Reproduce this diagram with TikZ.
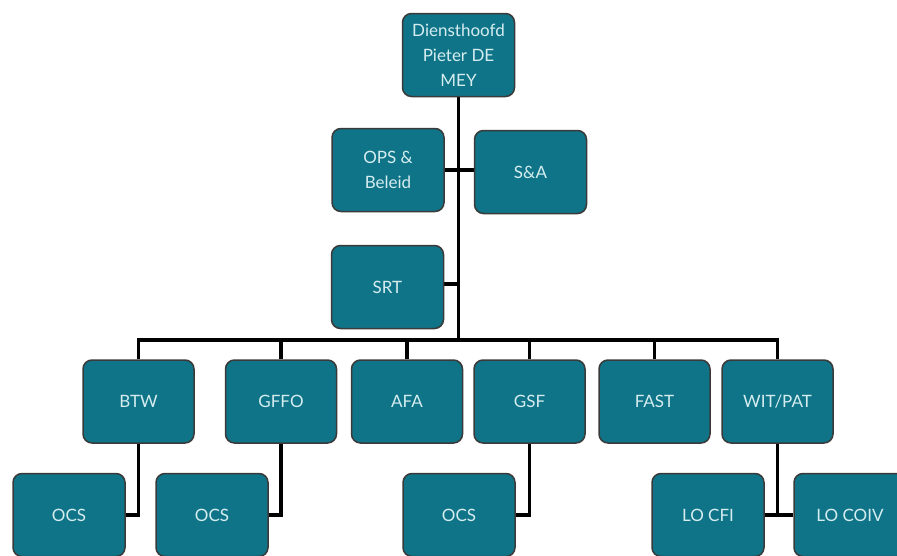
\documentclass[tikz,border=0pt]{standalone}
\usepackage{fontspec}
\setmainfont{Lato}
\usetikzlibrary{backgrounds}
\definecolor{teal1}{HTML}{0F7488}
\definecolor{txt}{HTML}{D6EDF0}
\definecolor{edge}{HTML}{3A3A3A}
\begin{document}
\begin{tikzpicture}[x=1pt,y=-1pt,
  box/.style={draw=edge,line width=1.5pt,fill=teal1,rounded corners=9pt,
    minimum width=112pt,minimum height=83pt,text=txt,align=center,
    font=\fontsize{17}{25}\selectfont,inner sep=0pt},
  wbox/.style={box,minimum width=111pt},
  wire/.style={line width=3.5pt,black}]
\useasboundingbox (0,0) rectangle (897,555);
\coordinate (bus) at (459,340);
\node[box] (top) at (458.5,55) {Diensthoofd\\Pieter DE\\MEY};
\node[box] (ops) at (388,170) {OPS \&\\Beleid};
\node[box] (sa) at (530.5,172) {S\&A};
\node[box] (srt) at (387.5,287) {SRT};
\node[wbox] (btw) at (138.5,401.5) {BTW};
\node[wbox] (gffo) at (281,401.5) {GFFO};
\node[wbox] (afa) at (407,401.5) {AFA};
\node[wbox] (gsf) at (529.5,401.5) {GSF};
\node[wbox] (fast) at (654.5,401.5) {FAST};
\node[wbox] (wit) at (777.5,401.5) {WIT/PAT};
\node[box] (ocs1) at (69,515) {OCS};
\node[box] (ocs2) at (212,515) {OCS};
\node[box] (ocs3) at (459,515) {OCS};
\node[box] (lcfi) at (708,515) {LO CFI};
\node[box] (lcoiv) at (850,515) {LO COIV};
\begin{pgfonlayer}{background}
\draw[wire] (top.south) -- (top.south |- bus);
\draw[wire] (ops.east |- 0,170) -- (sa.west |- 0,170);
\draw[wire] (srt.east |- 0,284) -- (459,284);
\draw[wire] (btw.north) |- (bus) -| (wit.north);
\draw[wire] (gffo.north) -- (gffo.north |- bus);
\draw[wire] (afa.north) -- (afa.north |- bus);
\draw[wire] (gsf.north) -- (gsf.north |- bus);
\draw[wire] (fast.north) -- (fast.north |- bus);
\draw[wire] (btw.south) |- (ocs1.east);
\draw[wire] (gffo.south) |- (ocs2.east);
\draw[wire] (gsf.south) |- (ocs3.east);
\draw[wire] (lcfi.east) -- (lcoiv.west);
\draw[wire] (wit.south) -- (wit.south |- lcfi.east);
\end{pgfonlayer}
\end{tikzpicture}
\end{document}
